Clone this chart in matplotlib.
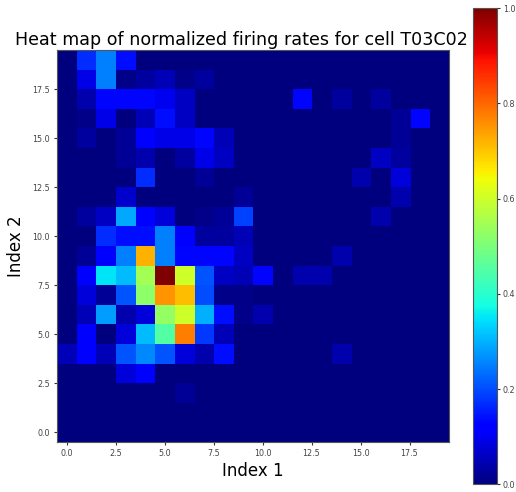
import numpy as np
import matplotlib
matplotlib.use("Agg")
import matplotlib.pyplot as plt

# normalized firing rates, one list per row (row 0 = bottom, Index 2 = 0)
row_00 = [0.0] * 20
row_01 = [0.0] * 20
row_02 = [0, 0, 0, 0, 0, 0, 0.02, 0, 0, 0, 0, 0, 0, 0, 0, 0, 0, 0, 0, 0]
row_03 = [0, 0, 0, 0.08, 0.12, 0, 0, 0, 0, 0, 0, 0, 0, 0, 0, 0, 0, 0, 0, 0]
row_04 = [0.05, 0.12, 0.05, 0.21, 0.26, 0.21, 0.08, 0.04, 0.14, 0, 0, 0, 0, 0, 0.04, 0, 0, 0, 0, 0]
row_05 = [0, 0.12, 0.0, 0.08, 0.31, 0.45, 0.775, 0.18, 0.05, 0, 0, 0, 0, 0, 0, 0, 0, 0, 0, 0]
row_06 = [0, 0.05, 0.28, 0.04, 0.08, 0.53, 0.6, 0.3, 0.14, 0.01, 0.04, 0, 0, 0, 0, 0, 0, 0, 0, 0]
row_07 = [0, 0.08, 0.02, 0.21, 0.52, 0.75, 0.71, 0.2, 0.01, 0.01, 0, 0, 0, 0, 0, 0, 0, 0, 0, 0]
row_08 = [0, 0.11, 0.35, 0.31, 0.55, 1.0, 0.6, 0.21, 0.06, 0.05, 0.13, 0, 0.04, 0.04, 0, 0, 0, 0, 0, 0]
row_09 = [0, 0.02, 0.12, 0.25, 0.72, 0.25, 0.13, 0.13, 0.13, 0.06, 0, 0, 0, 0, 0.04, 0, 0, 0, 0, 0]
row_10 = [0, 0, 0.17, 0.14, 0.14, 0.25, 0.12, 0.03, 0.03, 0.05, 0, 0, 0, 0, 0, 0, 0, 0, 0, 0]
row_11 = [0, 0.03, 0.06, 0.29, 0.12, 0.08, 0, 0.01, 0.02, 0.19, 0, 0, 0, 0, 0, 0, 0.04, 0, 0, 0]
row_12 = [0, 0, 0, 0.07, 0, 0, 0, 0, 0, 0.02, 0, 0, 0, 0, 0, 0, 0, 0.04, 0, 0]
row_13 = [0, 0, 0, 0, 0.17, 0, 0, 0.02, 0, 0, 0, 0, 0, 0, 0, 0.04, 0, 0.08, 0, 0]
row_14 = [0, 0, 0, 0.02, 0.04, 0, 0.03, 0.09, 0.06, 0, 0, 0, 0, 0, 0, 0, 0.06, 0.03, 0, 0]
row_15 = [0, 0.03, 0, 0.02, 0.11, 0.09, 0.09, 0.13, 0.05, 0, 0, 0, 0, 0, 0, 0, 0, 0.02, 0, 0]
row_16 = [0, 0.01, 0.09, 0, 0.05, 0.14, 0.06, 0, 0, 0, 0, 0, 0, 0, 0, 0, 0, 0.02, 0.13, 0]
row_17 = [0, 0.04, 0.13, 0.13, 0.13, 0.1, 0.06, 0, 0, 0, 0, 0, 0.13, 0, 0.03, 0, 0.03, 0, 0, 0]
row_18 = [0, 0.09, 0.25, 0.01, 0.03, 0.05, 0.01, 0.03, 0, 0, 0, 0, 0, 0, 0, 0, 0, 0, 0, 0]
row_19 = [0, 0.17, 0.25, 0.14, 0, 0, 0, 0, 0, 0, 0, 0, 0, 0, 0, 0, 0, 0, 0, 0]

rates = np.array([row_00, row_01, row_02, row_03, row_04, row_05, row_06, row_07,
                  row_08, row_09, row_10, row_11, row_12, row_13, row_14, row_15,
                  row_16, row_17, row_18, row_19])

fig = plt.figure(figsize=(5.16, 4.92), dpi=100)
ax = fig.add_axes([56.7 / 516, 50 / 492, 392 / 516, 392 / 492])
cax = fig.add_axes([472.7 / 516, 7.7 / 492, 24 / 516, 476.3 / 492])

im = ax.imshow(rates, cmap="jet", origin="lower", vmin=0, vmax=1,
               interpolation="nearest", aspect="auto")
cb = fig.colorbar(im, cax=cax)
cb.set_ticks([0.0, 0.2, 0.4, 0.6, 0.8, 1.0])
cb.ax.tick_params(labelsize=5.8, length=2.5, pad=2, colors="#333333", labelcolor="#444444")
cb.outline.set_edgecolor("#555555")

ax.set_xticks([0, 2.5, 5, 7.5, 10, 12.5, 15, 17.5])
ax.set_yticks([0, 2.5, 5, 7.5, 10, 12.5, 15, 17.5])
ax.tick_params(labelsize=5.8, length=2.5, pad=2.5, colors="#333333", labelcolor="#444444")
for s in ax.spines.values():
    s.set_edgecolor("#555555")

# title sits a bit left of the axes centre in the original
ax.set_title("Heat map of normalized firing rates for cell T03C02", fontsize=12.6, pad=3.5, x=0.47)
ax.set_xlabel("Index 1", fontsize=12, labelpad=3)
ax.set_ylabel("Index 2", fontsize=12, labelpad=5)

fig.savefig("out.png", dpi=100)
